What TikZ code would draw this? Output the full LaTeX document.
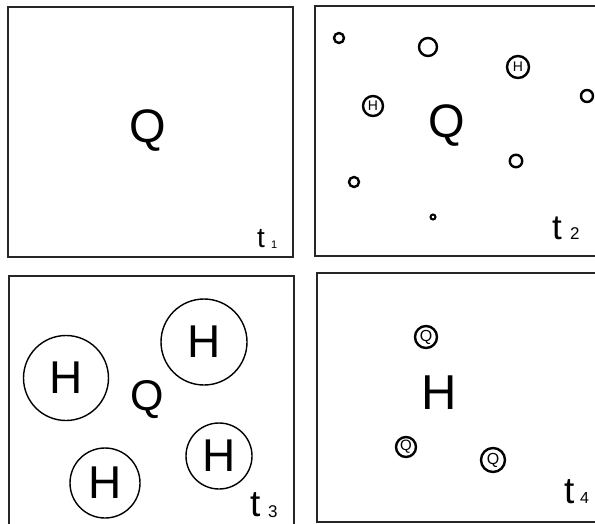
\documentclass[tikz,border=0pt]{standalone}
\usepackage{fontspec}
\setmainfont{Liberation Sans}
\newcommand{\fs}[1]{\fontsize{#1}{#1}\selectfont}
\begin{document}
\begin{tikzpicture}[x=1pt,y=-1pt,
  panel/.style={draw=black!85,line width=2.3pt},
  bigletter/.style={inner sep=0pt},
  smallring/.style={circle,draw,line width=2.4pt,inner sep=0pt},
  lettering/.style={circle,draw,line width=2.4pt,inner sep=0pt},
  bigring/.style={circle,draw,line width=1.4pt,inner sep=0pt,font=\fs{46}},
  tlabel/.style={anchor=base west,inner sep=0pt}
]
\useasboundingbox (0,0) rectangle (595,523);
\clip (0,0) rectangle (595,523);
% panels
\draw[panel] (8,7) rectangle (293,257);
\draw[panel] (315,6) rectangle (610,256);
\draw[panel] (9,276) rectangle (294,540);
\draw[panel] (317,273) rectangle (610,522);
% panel 1
\node[bigletter,font=\fs{47}] (q1) at (148,131) {Q};
\node[tlabel,font=\fs{28}] (t1) at (257,247) {t};
\node[tlabel,font=\fs{11}] (s1) at (271,248) {1};
% panel 2
\node[bigletter,font=\fs{47}] (q2) at (447,126) {Q};
\node[smallring,minimum size=10pt] (c1) at (339,38) {};
\node[smallring,minimum size=18pt] (c2) at (428,47) {};
\node[lettering,minimum size=22pt,font=\fs{14}] (h1) at (518,67) {H};
\node[smallring,minimum size=12pt] (c3) at (587,96) {};
\node[lettering,minimum size=20pt,font=\fs{14}] (h2) at (373,106) {H};
\node[smallring,minimum size=12.5pt] (c4) at (516,161) {};
\node[smallring,minimum size=10pt] (c5) at (354,182) {};
\node[smallring,minimum size=5pt,line width=2pt] (c6) at (433,217) {};
\node[tlabel,font=\fs{35}] (t2) at (552,239) {t};
\node[tlabel,font=\fs{17}] (s2) at (570,239) {2};
% panel 3
\node[bigring,minimum size=85pt] (b1) at (66,378) {H};
\node[bigring,minimum size=86pt] (b2) at (204,342) {H};
\node[bigring,minimum size=66pt] (b3) at (219,456) {H};
\node[bigring,minimum size=70pt] (b4) at (105,483) {H};
\node[bigletter,font=\fs{43}] (q3) at (147,400) {Q};
\node[tlabel,font=\fs{37}] (t3) at (250,516) {t};
\node[tlabel,font=\fs{17}] (s3) at (268,517) {3};
% panel 4
\node[bigletter,font=\fs{49}] (h4) at (439,393) {H};
\node[lettering,minimum size=22pt,font=\fs{16}] (r1) at (426,337) {Q};
\node[lettering,minimum size=20pt,font=\fs{15}] (r2) at (406,447) {Q};
\node[lettering,minimum size=24pt,font=\fs{16}] (r3) at (493,460) {Q};
\node[tlabel,font=\fs{37}] (t4) at (564,503) {t};
\node[tlabel,font=\fs{16}] (s4) at (580,503) {4};
\end{tikzpicture}
\end{document}
